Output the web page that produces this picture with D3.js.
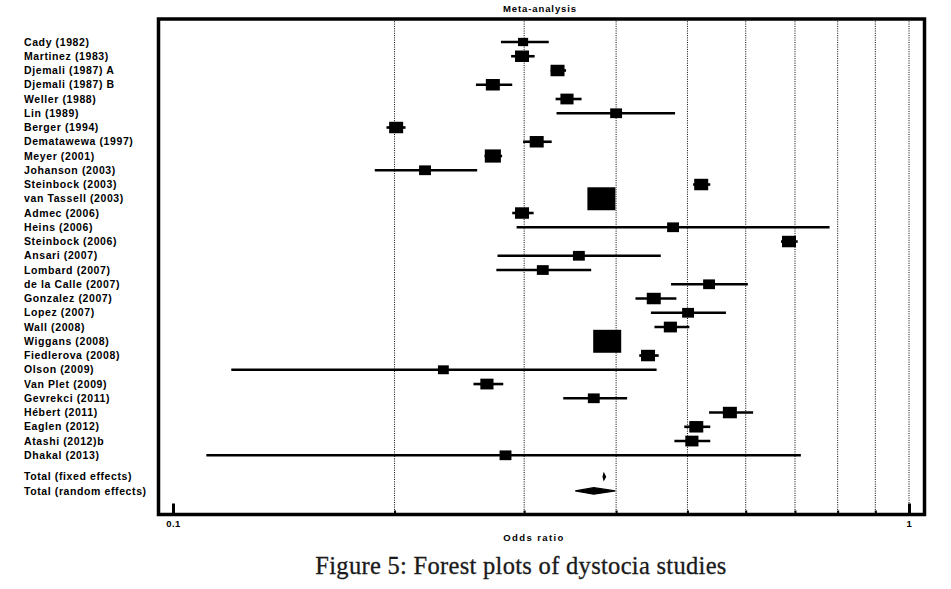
<!DOCTYPE html>
<html>
<head>
<meta charset="utf-8">
<script src="https://cdn.jsdelivr.net/npm/d3@7"></script>
<style>
  body { margin: 0; background: #fff; }
  svg { display: block; }
  .lbl { font-family: "Liberation Sans", Arial, sans-serif; font-weight: bold; font-size: 10.5px; letter-spacing: 0.6px; fill: #000; }
</style>
</head>
<body>
<div id="chart"></div>
<script>
// study labels, top to bottom
var studies = ["Cady (1982)", "Martinez (1983)", "Djemali (1987) A", "Djemali (1987) B", "Weller (1988)",
  "Lin (1989)", "Berger (1994)", "Dematawewa (1997)", "Meyer (2001)", "Johanson (2003)",
  "Steinbock (2003)", "van Tassell (2003)", "Admec (2006)", "Heins (2006)", "Steinbock (2006)",
  "Ansari (2007)", "Lombard (2007)", "de la Calle (2007)", "Gonzalez (2007)", "Lopez (2007)",
  "Wall (2008)", "Wiggans (2008)", "Fiedlerova (2008)", "Olson (2009)", "Van Plet (2009)",
  "Gevrekci (2011)", "Hébert (2011)", "Eaglen (2012)", "Atashi (2012)b", "Dhakal (2013)"];

// odds ratio and 95% CI
var oddsRatio = [0.299, 0.298, 0.333, 0.272, 0.343, 0.400, 0.201, 0.312, 0.272, 0.220,
  0.522, 0.382, 0.298, 0.478, 0.687, 0.356, 0.318, 0.535, 0.450, 0.501,
  0.474, 0.389, 0.442, 0.233, 0.267, 0.373, 0.571, 0.514, 0.507, 0.283];
var ciLow = [0.279, 0.288, 0.326, 0.258, 0.331, 0.332, 0.195, 0.299, 0.265, 0.188,
  0.509, 0.375, 0.289, 0.293, 0.670, 0.276, 0.275, 0.475, 0.425, 0.446,
  0.451, 0.382, 0.430, 0.120, 0.256, 0.339, 0.535, 0.495, 0.480, 0.111];
var ciHigh = [0.324, 0.310, 0.342, 0.289, 0.359, 0.481, 0.207, 0.327, 0.280, 0.259,
  0.537, 0.390, 0.309, 0.780, 0.706, 0.460, 0.370, 0.604, 0.483, 0.564,
  0.503, 0.396, 0.457, 0.454, 0.281, 0.414, 0.614, 0.537, 0.537, 0.713];
// study weights (%)
var weights = [1.3, 2.5, 2.5, 2.5, 2.2, 1.8, 2.5, 2.5, 3.3, 1.8,
  2.5, 10, 2.5, 1.8, 2.5, 1.8, 1.8, 1.8, 2.5, 1.8,
  2.2, 10, 2.5, 1.5, 2.2, 1.8, 2.5, 2.5, 2.2, 1.8];

var totalLabels = ["Total (fixed effects)", "Total (random effects)"];
var totalOR = [0.385, 0.373];
var totalLow = [0.384, 0.352];
var totalHigh = [0.387, 0.399];

var gridValues = [0.2, 0.3, 0.4, 0.5, 0.6, 0.7, 0.8, 0.9, 1];
var majorTicks = [0.1, 1];
var minorTicks = [0.2, 0.3, 0.4, 0.5, 0.6, 0.7, 0.8, 0.9];

const width = 951;
const height = 589;
const frameLeft = 158.5, frameRight = 924.5, frameTop = 19, frameBottom = 514.5;

const x = d3.scaleLog().domain([0.1, 1]).range([173, 909]);
const row = d3.scaleLinear().domain([0, 29]).range([42, 455.3]);
const size = d3.scaleSqrt().domain([0, 10]).range([0, 28]);

const svg = d3.select("#chart").append("svg")
  .attr("width", width)
  .attr("height", height)
  .attr("viewBox", [0, 0, width, height]);

svg.append("rect").attr("width", width).attr("height", height).attr("fill", "#fff");

// dotted grid
svg.append("g")
  .selectAll("line")
  .data(gridValues)
  .join("line")
  .attr("x1", d => x(d)).attr("x2", d => x(d))
  .attr("y1", frameTop).attr("y2", frameBottom)
  .attr("stroke", "#000")
  .attr("stroke-width", 1)
  .attr("stroke-dasharray", "1,1.3");

// study labels
svg.append("g")
  .selectAll("text")
  .data(studies)
  .join("text")
  .attr("class", "lbl")
  .attr("x", 24)
  .attr("y", (d, i) => row(i) + 3.6)
  .text(d => d);

svg.append("g")
  .selectAll("text")
  .data(totalLabels)
  .join("text")
  .attr("class", "lbl")
  .attr("x", 24)
  .attr("y", (d, i) => row(30.5 + i) + 3.6)
  .text(d => d);

// confidence intervals
svg.append("g")
  .selectAll("line")
  .data(studies)
  .join("line")
  .attr("x1", (d, i) => x(ciLow[i]))
  .attr("x2", (d, i) => x(ciHigh[i]))
  .attr("y1", (d, i) => row(i))
  .attr("y2", (d, i) => row(i))
  .attr("stroke", "#000")
  .attr("stroke-width", 2.6);

// weight squares
svg.append("g")
  .selectAll("rect")
  .data(studies)
  .join("rect")
  .attr("x", (d, i) => x(oddsRatio[i]) - size(weights[i]) / 2)
  .attr("y", (d, i) => row(i) - size(weights[i]) * 0.41)
  .attr("width", (d, i) => size(weights[i]))
  .attr("height", (d, i) => size(weights[i]) * 0.82)
  .attr("fill", "#000");

// pooled diamonds
svg.append("g")
  .selectAll("path")
  .data(totalOR)
  .join("path")
  .attr("d", (d, i) => {
    const cy = row(30.5 + i);
    const l = x(totalLow[i]), r = x(totalHigh[i]), m = x(d);
    return `M${l},${cy}L${m},${cy - 3.2}L${r},${cy}L${m},${cy + 3.2}Z`;
  })
  .attr("fill", "#000")
  .attr("stroke", "#000")
  .attr("stroke-width", 1.2);

// ticks
const minorAxis = svg.append("g")
  .attr("transform", `translate(0,${frameBottom})`)
  .call(d3.axisBottom(x).tickValues(minorTicks).tickSize(-4).tickFormat(() => ""));
minorAxis.select(".domain").remove();
minorAxis.selectAll("line").attr("stroke-width", 2);

const majorAxis = svg.append("g")
  .attr("transform", `translate(0,${frameBottom})`)
  .call(d3.axisBottom(x).tickValues(majorTicks).tickSize(-11).tickPadding(6).tickFormat(d3.format("")));
majorAxis.select(".domain").remove();
majorAxis.selectAll("line").attr("stroke-width", 3);
majorAxis.selectAll("text")
  .attr("font-family", "Liberation Sans, Arial, sans-serif")
  .attr("font-weight", "bold")
  .attr("font-size", "9.5px")
  .attr("letter-spacing", "0.5px")
  .attr("fill", "#000");

// frame
svg.append("rect")
  .attr("x", frameLeft).attr("y", frameTop)
  .attr("width", frameRight - frameLeft).attr("height", frameBottom - frameTop)
  .attr("fill", "none")
  .attr("stroke", "#000")
  .attr("stroke-width", 3.5);

svg.append("text")
  .attr("class", "lbl")
  .attr("x", 540).attr("y", 12)
  .attr("text-anchor", "middle")
  .style("font-size", "9.5px")
  .style("letter-spacing", "0.9px")
  .text("Meta-analysis");

svg.append("text")
  .attr("class", "lbl")
  .attr("x", 534).attr("y", 541)
  .attr("text-anchor", "middle")
  .style("font-size", "9.5px")
  .style("letter-spacing", "1.4px")
  .text("Odds ratio");

svg.append("text")
  .attr("x", 521).attr("y", 574)
  .attr("text-anchor", "middle")
  .attr("font-family", "Liberation Serif, Times New Roman, serif")
  .attr("font-size", "24.5px")
  .attr("letter-spacing", "0.3px")
  .attr("fill", "#1a1a1a")
  .attr("stroke", "#1a1a1a")
  .attr("stroke-width", 0.3)
  .text("Figure 5: Forest plots of dystocia studies");
</script>
</body>
</html>
